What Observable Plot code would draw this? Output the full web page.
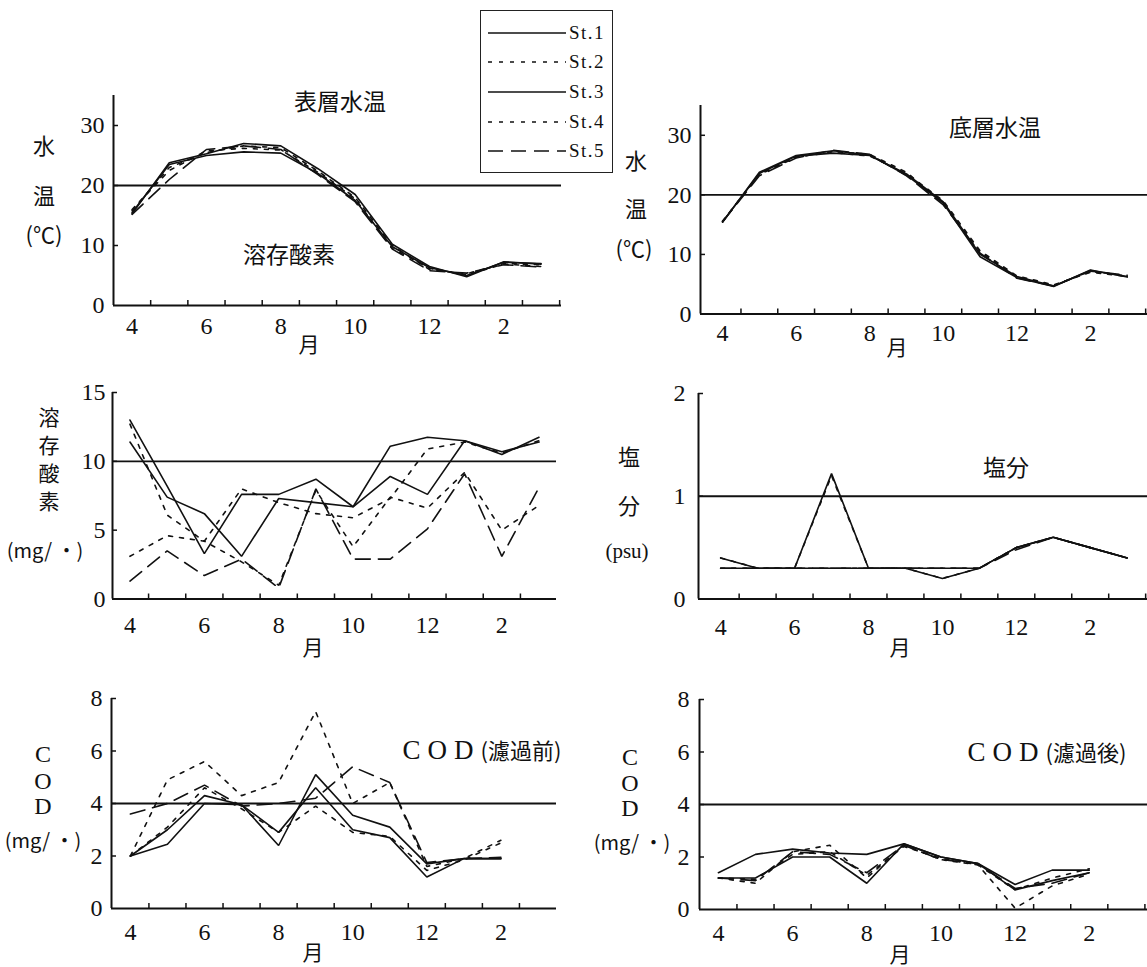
<!DOCTYPE html>
<html><head><meta charset="utf-8">
<script src="https://cdn.jsdelivr.net/npm/d3@7"></script>
<script src="https://cdn.jsdelivr.net/npm/@observablehq/plot@0.6"></script>
<style>
body{margin:0;background:#fff;}
#wrap{position:relative;width:1147px;height:967px;overflow:hidden;background:#fff;color:#111;
  font-family:'Liberation Serif','Noto Sans CJK JP',serif;}
.lbl{position:absolute;transform:translate(-50%,-50%);white-space:nowrap;line-height:1;font-size:22px;}
.cjk{font-family:'Noto Sans CJK JP',sans-serif;}
#legend{position:absolute;left:480px;top:10px;width:131px;height:161px;border:1.5px solid #222;background:#fff;}
#legend .row{position:absolute;left:0;height:20px;}
#legend .row span{position:absolute;left:88px;top:0;font-size:19px;letter-spacing:1.5px;line-height:20px;}
#legend svg{position:absolute;left:7px;top:0;}
</style></head><body><div id="wrap"></div>
<script>
// ---------- data ----------
const months = ["4","5","6","7","8","9","10","11","12","1","2","3"];
const labeledMonths = [0, 2, 4, 6, 8, 10];
const stations = ["St.1", "St.2", "St.3", "St.4", "St.5"];

// 表層水温 (℃)  Apr..Mar, one row per station
const surfaceTemp = [
  [15.5, 23.5, 25.0, 25.6, 25.4, 22.0, 17.5, 9.8, 6.3, 5.0, 7.2, 7.0],
  [15.8, 23.0, 25.5, 26.6, 26.3, 22.4, 18.0, 10.0, 6.0, 5.3, 7.0, 6.8],
  [15.3, 23.8, 25.3, 27.0, 26.6, 22.8, 18.5, 10.2, 6.5, 4.8, 7.3, 6.9],
  [16.0, 22.5, 25.8, 26.2, 25.9, 22.2, 17.8, 9.5, 6.2, 5.1, 6.9, 6.5],
  [15.2, 21.0, 26.0, 26.6, 26.0, 21.8, 17.3, 9.4, 5.8, 5.4, 6.8, 6.4]
];
// 底層水温 (℃)
const bottomTemp = [
  [15.5, 23.6, 26.5, 27.0, 26.6, 23.5, 18.8, 10.0, 6.3, 4.7, 7.3, 6.3],
  [15.6, 23.4, 26.3, 27.3, 26.8, 23.8, 18.5, 10.4, 6.2, 4.8, 7.1, 6.4],
  [15.4, 23.8, 26.6, 27.4, 26.7, 23.3, 18.6, 9.6, 6.1, 4.6, 7.4, 6.2],
  [15.5, 23.5, 26.4, 27.1, 26.5, 23.6, 19.0, 10.6, 6.4, 4.9, 7.0, 6.3],
  [15.5, 23.2, 26.2, 27.5, 26.8, 23.2, 18.3, 10.2, 6.0, 4.7, 7.2, 6.5]
];
// 溶存酸素 (mg/l)
const dissolvedO2 = [
  [13.0, 8.2, 3.3, 7.6, 7.6, 8.7, 6.7, 11.1, 11.75, 11.5, 10.5, 11.75],
  [12.7, 6.1, 4.2, 8.0, 7.0, 6.2, 5.9, 7.3, 10.9, 11.4, 10.6, 11.5],
  [11.4, 7.4, 6.2, 3.1, 7.3, 7.0, 6.7, 8.9, 7.6, 11.5, 10.7, 11.4],
  [3.1, 4.6, 4.2, 2.7, 1.0, 7.9, 3.8, 7.4, 6.6, 9.2, 5.0, 6.8],
  [1.3, 3.5, 1.7, 2.9, 0.8, 8.0, 2.9, 2.9, 5.1, 9.1, 3.1, 8.1]
];
// 塩分 (psu)
const salinity = [
  [0.4, 0.3, 0.3, 1.22, 0.3, 0.3, 0.2, 0.3, 0.5, 0.6, 0.5, 0.4],
  [0.4, 0.3, 0.3, 1.2, 0.3, 0.3, 0.2, 0.3, 0.5, 0.6, 0.5, 0.4],
  [0.3, 0.3, 0.3, 0.3, 0.3, 0.3, 0.3, 0.3, 0.5, 0.6, 0.5, 0.4],
  [0.3, 0.3, 0.3, 0.3, 0.3, 0.3, 0.3, 0.3, 0.5, 0.6, 0.5, 0.4],
  [0.3, 0.3, 0.3, 0.3, 0.3, 0.3, 0.3, 0.3, 0.48, 0.6, 0.5, 0.4]
];
// COD 濾過前 (mg/l)  Apr..Feb
const codBefore = [
  [2.0, 2.45, 4.0, 3.95, 2.4, 5.1, 3.55, 3.1, 1.7, 1.9, 1.9],
  [2.0, 4.9, 5.6, 4.3, 4.8, 7.5, 4.0, 4.8, 1.6, 1.9, 2.6],
  [2.0, 3.0, 4.3, 3.95, 2.9, 4.6, 3.0, 2.7, 1.2, 1.9, 1.9],
  [2.0, 3.1, 4.6, 3.8, 2.9, 3.9, 2.9, 2.75, 1.45, 1.85, 2.5],
  [3.6, 4.0, 4.7, 3.9, 4.0, 4.2, 5.4, 4.8, 1.75, 1.9, 1.95]
];
// COD 濾過後 (mg/l)  Apr..Feb
const codAfter = [
  [1.4, 2.1, 2.3, 2.15, 2.1, 2.5, 2.0, 1.75, 0.95, 1.5, 1.5],
  [1.2, 1.0, 2.2, 2.45, 1.2, 2.45, 1.9, 1.7, 0.05, 0.9, 1.35],
  [1.2, 1.2, 2.0, 2.0, 1.0, 2.5, 2.0, 1.75, 0.75, 1.1, 1.4],
  [1.2, 1.15, 2.1, 2.2, 1.3, 2.4, 1.95, 1.7, 0.75, 1.2, 1.55],
  [1.2, 1.1, 2.2, 2.1, 1.4, 2.45, 1.9, 1.75, 0.8, 1.0, 1.4]
];

const tempTicks = [0, 10, 20, 30];
const o2Ticks = [0, 5, 10, 15];
const salTicks = [0, 1, 2];
const codTicks = [0, 2, 4, 6, 8];
const tempRef = 20, o2Ref = 10, salRef = 1, codRef = 4;

// ---------- styles ----------
const dashes = [null, "4,7", null, "4,7", "15,8"];
const ink = "#111";
const wrap = document.getElementById("wrap");

function panel(cfg) {
  const {left, top, width, height, fx0, fx1, fyT, fyB, xDomain, yDomain, yTicks, ref, series, yPad, xPad} = cfg;
  const marginLeft = fx0 - left, marginRight = left + width - fx1;
  const marginTop = fyT - top, marginBottom = top + height - fyB;
  const frameW = fx1 - fx0, frameH = fyB - fyT;
  const rows = series.flatMap((vals, s) => vals.map((v, i) => ({station: stations[s], s, i, v})));
  const bounds = d3.range(0, 12).map(i => i + 0.5).filter(b => b < xDomain[1]);
  const marks = [
    Plot.ruleY([ref], {stroke: ink, strokeWidth: 1.8}),
    Plot.tickY(yTicks.slice(1), {y: d => d, stroke: ink, strokeWidth: 1.5, insetRight: frameW - 5}),
    Plot.tickX(bounds, {x: d => d, stroke: ink, strokeWidth: 1.5, insetTop: frameH - 5}),
    Plot.axisY({ticks: yTicks, tickSize: 0, tickPadding: yPad, fontSize: 24, label: null, tickFormat: d => String(d)}),
    Plot.axisX({ticks: labeledMonths, tickSize: 0, tickPadding: xPad, fontSize: 24, label: null, tickFormat: i => months[i]}),
    ...series.map((_, s) => Plot.line(rows.filter(r => r.s === s), {
      x: "i", y: "v", stroke: ink, strokeWidth: 1.6, strokeDasharray: dashes[s], strokeLinejoin: "miter"
    })),
    Plot.ruleX([xDomain[0]], {stroke: ink, strokeWidth: 2}),
    Plot.ruleY([yDomain[0]], {stroke: ink, strokeWidth: 2.2})
  ];
  const svg = Plot.plot({
    width, height, marginLeft, marginRight, marginTop, marginBottom,
    x: {domain: xDomain, label: null}, y: {domain: yDomain, label: null},
    style: {background: "transparent", color: ink, fontFamily: "'Liberation Serif','Noto Sans CJK JP',serif", fontSize: "24px", overflow: "visible"},
    marks
  });
  svg.style.position = "absolute";
  svg.style.left = left + "px";
  svg.style.top = top + "px";
  wrap.appendChild(svg);
}

panel({left: 60, top: 85, width: 520, height: 285, fx0: 113, fx1: 561, fyT: 95, fyB: 305,
  xDomain: [-0.5, 11.55], yDomain: [0, 35], yTicks: tempTicks, ref: tempRef, series: surfaceTemp, yPad: 9, xPad: 11});
panel({left: 650, top: 85, width: 497, height: 285, fx0: 700, fx1: 1147, fyT: 105, fyB: 313.5,
  xDomain: [-0.6, 11.55], yDomain: [0, 35], yTicks: tempTicks, ref: tempRef, series: bottomTemp, yPad: 9, xPad: 10});
panel({left: 60, top: 375, width: 520, height: 290, fx0: 112, fx1: 556, fyT: 392, fyB: 598.5,
  xDomain: [-0.47, 11.47], yDomain: [0, 15], yTicks: o2Ticks, ref: o2Ref, series: dissolvedO2, yPad: 7, xPad: 17});
panel({left: 650, top: 375, width: 497, height: 290, fx0: 698, fx1: 1147, fyT: 393, fyB: 598.5,
  xDomain: [-0.6, 11.55], yDomain: [0, 2], yTicks: salTicks, ref: salRef, series: salinity, yPad: 13, xPad: 19});
panel({left: 60, top: 680, width: 520, height: 287, fx0: 111, fx1: 556, fyT: 698, fyB: 908,
  xDomain: [-0.51, 11.5], yDomain: [0, 8], yTicks: codTicks, ref: codRef, series: codBefore, yPad: 9, xPad: 14});
panel({left: 650, top: 680, width: 497, height: 287, fx0: 699, fx1: 1147, fyT: 699, fyB: 909,
  xDomain: [-0.51, 11.57], yDomain: [0, 8], yTicks: codTicks, ref: codRef, series: codAfter, yPad: 10, xPad: 14});

// ---------- text labels ----------
function label(text, x, y, cls = "", extra = "") {
  const d = document.createElement("div");
  d.className = "lbl " + cls;
  d.style.left = x + "px"; d.style.top = y + "px";
  if (extra) d.style.cssText += extra;
  d.innerHTML = text;
  wrap.appendChild(d);
}
// panel titles
label("表層水温", 340, 100, "cjk", "font-size:23px;");
label("溶存酸素", 289, 253, "cjk", "font-size:23px;");
label("底層水温", 995, 126, "cjk", "font-size:23px;");
label("塩分", 1006, 466, "cjk", "font-size:23px;");
label('<span style="font-family:Liberation Serif;font-size:27px;letter-spacing:7px">COD</span><span class="cjk" style="font-size:22px">(濾過前)</span>', 482, 750);
label('<span style="font-family:Liberation Serif;font-size:27px;letter-spacing:7px">COD</span><span class="cjk" style="font-size:22px">(濾過後)</span>', 1047, 752);
// y-axis titles
label("水", 44, 144, "cjk"); label("温", 44, 194, "cjk"); label("(℃)", 44, 233, "cjk");
label("水", 636, 159, "cjk"); label("温", 636, 207, "cjk"); label("(℃)", 634, 247, "cjk");
label("溶", 49, 416, "cjk", "font-size:21px;"); label("存", 49, 444, "cjk", "font-size:21px;");
label("酸", 49, 472, "cjk", "font-size:21px;"); label("素", 49, 500, "cjk", "font-size:21px;");
label("(mg/ ・)", 45, 550, "cjk", "font-size:20px;");
label("塩", 629, 455, "cjk"); label("分", 629, 504, "cjk"); label("(psu)", 627, 551, "", "font-size:21px;");
label("C", 43, 754, "", "font-size:24px;"); label("O", 43, 781, "", "font-size:24px;"); label("D", 43, 806, "", "font-size:24px;");
label("(mg/ ・)", 43, 840, "cjk", "font-size:20px;");
label("C", 630, 757, "", "font-size:24px;"); label("O", 630, 783, "", "font-size:24px;"); label("D", 630, 808, "", "font-size:24px;");
label("(mg/ ・)", 632, 842, "cjk", "font-size:20px;");
// x-axis titles
label("月", 309, 343, "cjk", "font-size:21px;");
label("月", 897, 346, "cjk", "font-size:21px;");
label("月", 313, 646, "cjk", "font-size:21px;");
label("月", 900, 646, "cjk", "font-size:21px;");
label("月", 313, 951, "cjk", "font-size:21px;");
label("月", 900, 953, "cjk", "font-size:21px;");

// ---------- legend ----------
const legend = document.createElement("div");
legend.id = "legend";
const rowY = [12, 41, 71, 101, 130];
stations.forEach((st, s) => {
  const row = document.createElement("div");
  row.className = "row";
  row.style.top = rowY[s] + "px";
  row.innerHTML = `<svg width="80" height="20"><line x1="0" y1="10" x2="78" y2="10" stroke="${ink}" stroke-width="1.6" ${dashes[s] ? `stroke-dasharray="${dashes[s]}"` : ""}/></svg><span>${st}</span>`;
  legend.appendChild(row);
});
wrap.appendChild(legend);
</script>
</body></html>
